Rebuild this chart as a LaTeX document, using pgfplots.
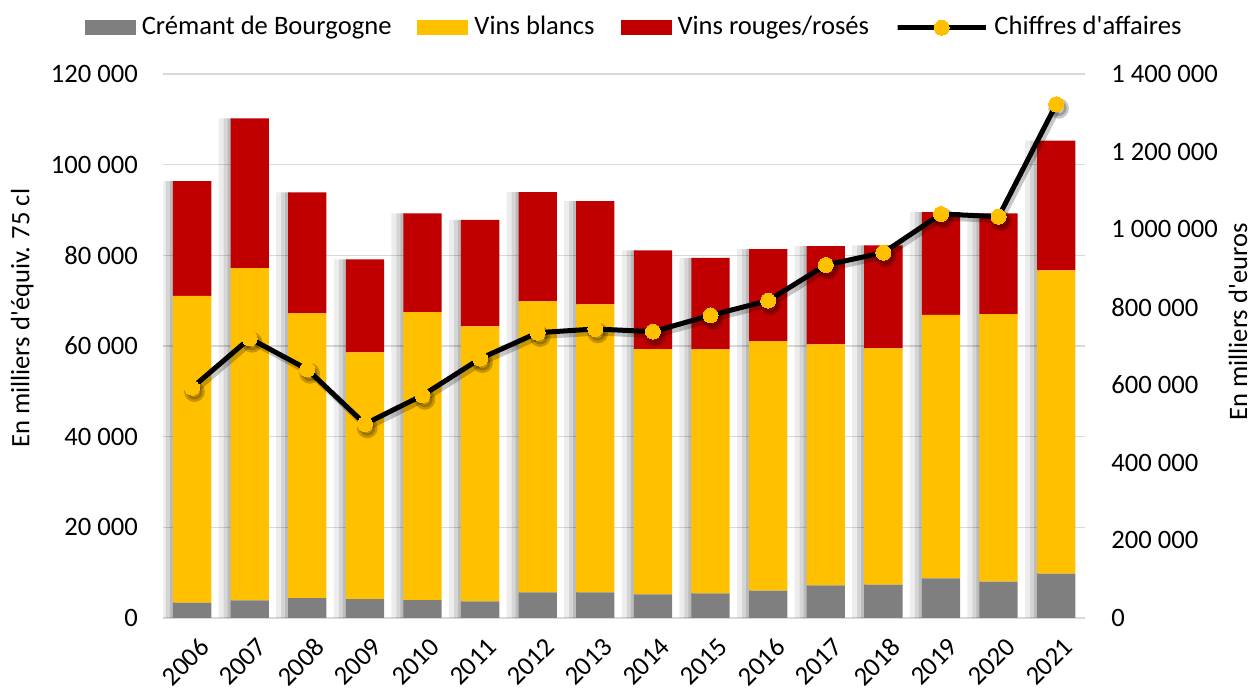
\documentclass[border=0pt]{standalone}
\usepackage{fontspec}
\setmainfont{Carlito}
\usepackage{pgfplots}
\pgfplotsset{compat=1.18}
\definecolor{cgray}{HTML}{7F7F7F}
\definecolor{cyellow}{HTML}{FFC000}
\definecolor{cred}{HTML}{C00000}
\definecolor{cgrid}{HTML}{D9D9D9}
\begin{document}
\fontsize{13.3pt}{15pt}\selectfont
\begin{tikzpicture}
\useasboundingbox (-81.65pt,-36.5pt) rectangle (545.85pt,309pt);
\pgfplotsset{
  base/.style={
    scale only axis, width=460.85pt, height=272pt,
    xmin=-0.5, xmax=15.5,
    axis line style={draw=none},
    major tick length=0pt,
    tick label style={font=\fontsize{13.3pt}{15pt}\selectfont, text=black},
    label style={font=\fontsize{13.3pt}{15pt}\selectfont, text=black},
    /pgf/number format/assume math mode=true,
    scaled y ticks=false,
  },
  barleg/.style={legend image code/.code={\fill[##1] (0pt,-3.75pt) rectangle (25.5pt,3.75pt);}},
  lineleg/.style={legend image code/.code={\draw[mark repeat=2,mark phase=2,##1] plot coordinates {(0pt,0pt) (12.5pt,0pt) (25pt,0pt)};}},
}
\pgfplotstableread{
x total
0 96360
1 110190
2 93870
3 79090
4 89230
5 87830
6 93930
7 91950
8 81070
9 79450
10 81360
11 82030
12 82170
13 89520
14 89230
15 105330
}\totals
% shadow of bars + grid + left ticks
\begin{axis}[base,
  ybar,
  ymin=0, ymax=120000,
  ytick={0,20000,40000,60000,80000,100000,120000},
  yticklabels={0,20 000,40 000,60 000,80 000,100 000,120 000},
  yticklabel style={anchor=east, inner sep=0pt, xshift=-12.5pt},
  ymajorgrids, grid style={cgrid, line width=0.8pt},
  xtick={0,1,2,3,4,5,6,7,8,9,10,11,12,13,14,15},
  xticklabels={2006,2007,2008,2009,2010,2011,2012,2013,2014,2015,2016,2017,2018,2019,2020,2021},
  xticklabel style={xshift=3pt, yshift=-9pt, rotate=45, anchor=north east, inner sep=0pt},
  ylabel={En milliers d\textquotesingle équiv. 75 cl},
  ylabel style={at={(axis description cs:-0.153,0.551)}, anchor=center},
]
\addplot[draw=none, fill=black, fill opacity=0.07, bar width=7pt, bar shift=-12.07pt, forget plot] table[x=x,y=total] {\totals};
\addplot[draw=none, fill=black, fill opacity=0.10, bar width=4.5pt, bar shift=-10.82pt, forget plot] table[x=x,y=total] {\totals};
\addplot[draw=none, fill=black, fill opacity=0.12, bar width=2.5pt, bar shift=-9.82pt, forget plot] table[x=x,y=total] {\totals};
\end{axis}
% stacked bars + legend
\begin{axis}[base, hide axis,
  ybar stacked, bar width=19.15pt,
  ymin=0, ymax=120000,
  legend style={at={(axis description cs:0.512,1.085)}, anchor=center, draw=none, fill=none,
    legend columns=-1, font=\fontsize{13.3pt}{15pt}\selectfont,
    /tikz/every odd column/.append style={column sep=1pt},
    /tikz/every even column/.append style={column sep=11pt}},
]
\addplot[fill=cgray, draw=none, barleg] coordinates {
(0,3380) (1,3900) (2,4410) (3,4190) (4,3970) (5,3680) (6,5660) (7,5660)
(8,5220) (9,5440) (10,6030) (11,7200) (12,7350) (13,8750) (14,8010) (15,9770)};
\addplot[fill=cyellow, draw=none, barleg] coordinates {
(0,67690) (1,73270) (2,62770) (3,54390) (4,63500) (5,60630) (6,64170) (7,63500)
(8,54090) (9,53800) (10,54970) (11,53140) (12,52110) (13,58140) (14,59020) (15,66890)};
\addplot[fill=cred, draw=none, barleg] coordinates {
(0,25290) (1,33020) (2,26690) (3,20510) (4,21760) (5,23520) (6,24100) (7,22790)
(8,21760) (9,20210) (10,20360) (11,21690) (12,22710) (13,22630) (14,22200) (15,28670)};
\addlegendentry{Crémant de Bourgogne}
\addlegendentry{Vins blancs}
\addlegendentry{Vins rouges/rosés}
\addlegendimage{black, line width=2.5pt, mark=*, mark size=3.75pt, mark options={fill=cyellow, draw=cyellow, line width=0pt}, lineleg}
\addlegendentry{Chiffres d\textquotesingle affaires}
\end{axis}
% line on right axis
\begin{axis}[base,
  ymin=0, ymax=1400000,
  axis y line*=right, hide x axis,
  ytick={0,200000,400000,600000,800000,1000000,1200000,1400000},
  yticklabels={0,200 000,400 000,600 000,800 000,1 000 000,1 200 000,1 400 000},
  yticklabel style={anchor=west, inner sep=0pt, xshift=13pt},
  ylabel={En milliers d\textquotesingle euros},
  ylabel style={at={(axis description cs:1.166,0.544)}, anchor=center},
]
\addplot[black, opacity=0.22, line width=2.5pt, xshift=1.2pt, yshift=-2pt, mark=*, mark size=3.9pt, mark options={fill=black, draw=none}, forget plot] coordinates {
(0,592700) (1,719700) (2,640000) (3,499300) (4,573000) (5,667400) (6,734300) (7,743800)
(8,736900) (9,778900) (10,816700) (11,908500) (12,940200) (13,1039700) (14,1032800) (15,1322000)};
\addplot[black, line width=2.5pt, mark=*, mark size=3.75pt, mark options={fill=cyellow, draw=cyellow, line width=0pt}] coordinates {
(0,592700) (1,719700) (2,640000) (3,499300) (4,573000) (5,667400) (6,734300) (7,743800)
(8,736900) (9,778900) (10,816700) (11,908500) (12,940200) (13,1039700) (14,1032800) (15,1322000)};
\end{axis}
\end{tikzpicture}
\end{document}
